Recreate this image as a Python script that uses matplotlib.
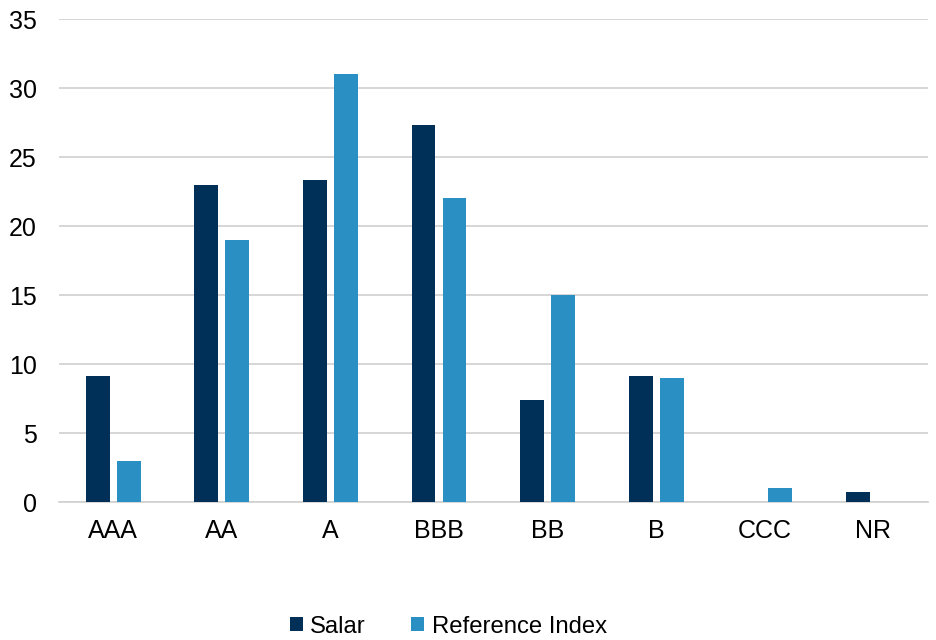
import numpy as np
import matplotlib
matplotlib.use('Agg')
from matplotlib import pyplot as plt

ratings = ['AAA', 'AA', 'A', 'BBB', 'BB', 'B', 'CCC', 'NR']
salar = [9.1, 23.0, 23.3, 27.3, 7.4, 9.1, 0.0, 0.7]
reference_index = [3.0, 19.0, 31.0, 22.0, 15.0, 9.0, 1.0, 0.0]

plt.rcParams['font.family'] = ['Liberation Sans', 'DejaVu Sans']

fig = plt.figure(figsize=(9.36, 6.4), dpi=100)
ax = fig.add_axes([0.063, 0.2156, 0.928, 0.7547])

x = np.arange(len(ratings))
w = 0.22
gap = 0.065
ax.bar(x - (w + gap) / 2, salar, w, color='#003057', label='Salar', zorder=3)
ax.bar(x + (w + gap) / 2, reference_index, w, color='#2A90C4', label='Reference Index', zorder=3)

ax.set_xlim(-0.5, len(ratings) - 0.5)
ax.set_ylim(0, 35)
ax.set_yticks(range(0, 36, 5))
ax.set_xticks(x)
ax.set_xticklabels(ratings)
ax.yaxis.grid(True, color='#D0D0D0', linewidth=1.2, zorder=0)
ax.tick_params(axis='both', length=0, labelsize=18, colors='#000000')
ax.tick_params(axis='y', pad=16)
ax.tick_params(axis='x', pad=12)
for s in ['top', 'right', 'left']:
    ax.spines[s].set_visible(False)
ax.spines['bottom'].set_color('#D0D0D0')
ax.spines['bottom'].set_linewidth(1.2)

fig.legend(loc='lower center', bbox_to_anchor=(0.479, -0.03), ncol=2, frameon=False,
           fontsize=17.2, handlelength=0.55, handleheight=0.55, handletextpad=0.3,
           columnspacing=1.9)

fig.savefig('out.png', dpi=100)
